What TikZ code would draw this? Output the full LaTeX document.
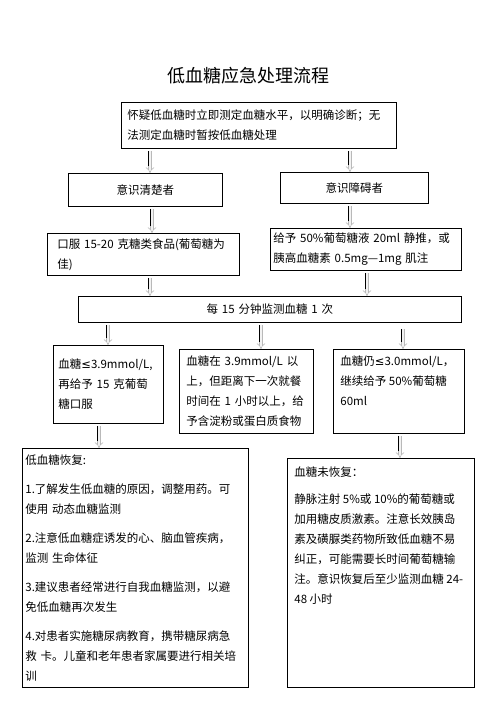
\documentclass[tikz,border=0pt]{standalone}
\usepackage{fontspec}
\setmainfont{Noto Sans CJK SC}
\newfontfamily\symfont{DejaVu Sans}
\newcommand\leqsym{{\symfont ≤}}
\usetikzlibrary{arrows.meta}

\begin{document}
\begin{tikzpicture}[x=1pt,y=-1pt,
 box/.style={draw=black,line width=0.8pt,anchor=north west,align=left,inner ysep=0pt,font=\fontsize{11.5}{20}\selectfont},
 garr/.style={draw=gray!55,double=gray!10,double distance=2.4pt,line width=0.6pt,-{Implies},shorten <=2pt,
   postaction={draw=black,line width=1.2pt,-,transform canvas={xshift=-1.6pt},shorten >=7pt}}]
\fill[white] (0,0) rectangle (496,702);
\useasboundingbox (0,0) rectangle (496,702);
\node[font=\fontsize{18}{20}\selectfont] (title) at (248,76) {低血糖应急处理流程};
\node[box,text width=263pt,inner xsep=6pt,minimum height=46pt] (top) at (121,102)
 {怀疑低血糖时立即测定血糖水平，以明确诊断；无\\法测定血糖时暂按低血糖处理};
\node[box,align=center,text width=142pt,inner xsep=6pt,minimum height=33pt] (clear) at (68,173) {意识清楚者};
\node[box,align=center,text width=136pt,inner xsep=6pt,minimum height=31pt] (impair) at (280,172) {意识障碍者};
\node[box,text width=172pt,inner xsep=10pt,minimum height=42pt] (oral) at (47,233)
 {口服 15-20 克糖类食品(葡萄糖为\\佳)};
\node[box,text width=185pt,inner xsep=3pt,minimum height=42pt] (iv) at (270,228)
 {给予 50\%葡萄糖液 20ml 静推，或\\胰高血糖素 0.5mg—1mg 肌注};
\node[box,align=center,text width=371pt,inner xsep=6pt,minimum height=26pt] (mon) at (78,296) {每 15 分钟监测血糖 1 次};
\node[box,text width=100pt,inner xsep=5pt,minimum height=78pt] (low) at (53,345)
 {血糖\leqsym3.9mmol/L,\\再给予 15 克葡萄\\糖口服};
\node[box,text width=120pt,inner xsep=7pt,minimum height=84pt] (meal) at (179,349)
 {血糖在 3.9mmol/L 以\\上，但距离下一次就餐\\时间在 1 小时以上，给\\予含淀粉或蛋白质食物};
\node[box,inner xsep=7pt,inner ysep=6pt] (still) at (333,349)
 {\parbox[t][72pt][t]{117pt}{血糖仍\leqsym3.0mmol/L，\\继续给予 50\%葡萄糖\\60ml}};
\node[box,text width=220pt,inner xsep=3pt,minimum height=239pt] (ok) at (22,448)
 {低血糖恢复:\\[9pt]
  1.了解发生低血糖的原因，调整用药。可\\使用 动态血糖监测\\[9pt]
  2.注意低血糖症诱发的心、脑血管疾病，\\监测 生命体征\\[9pt]
  3.建议患者经常进行自我血糖监测，以避\\免低血糖再次发生\\[9pt]
  4.对患者实施糖尿病教育，携带糖尿病急\\救 卡。儿童和老年患者家属要进行相关培\\训};
\node[box,inner xsep=7pt,inner ysep=8pt] (fail) at (287,458)
 {\parbox[t][213pt][t]{173pt}{血糖未恢复：\\[7pt]
  静脉注射 5\%或 10\%的葡萄糖或\\加用糖皮质激素。注意长效胰岛\\素及磺脲类药物所致低血糖不易\\纠正，可能需要长时间葡萄糖输\\注。意识恢复后至少监测血糖 24-\\48 小时}};
% arrows
\draw[garr] ([xshift=29pt]top.south west) -- ([xshift=82pt]clear.north west);
\draw[garr] ([xshift=229pt]top.south west) -- ([xshift=70pt]impair.north west);
\draw[garr] ([xshift=84pt]clear.south west) -- ([xshift=105pt]oral.north west);
\draw[garr] ([xshift=70pt]impair.south west) -- ([xshift=80pt]iv.north west);
\draw[garr] ([xshift=103pt]oral.south west) -- ([xshift=72pt]mon.north west);
\draw[garr] ([xshift=97pt]iv.south west) -- ([xshift=289pt]mon.north west);
\draw[garr] ([xshift=30pt]mon.south west) -- ([xshift=55pt]low.north west);
\draw[garr] ([xshift=183pt]mon.south west) -- ([xshift=82pt]meal.north west);
\draw[garr] ([xshift=325pt,yshift=-4pt]mon.south west) -- ([xshift=70pt]still.north west);
\draw[garr] ([xshift=46pt]low.south west) -- ([xshift=77pt]ok.north west);
\draw[garr] ([xshift=67pt]still.south west) -- ([xshift=113pt]fail.north west);
\end{tikzpicture}
\end{document}
